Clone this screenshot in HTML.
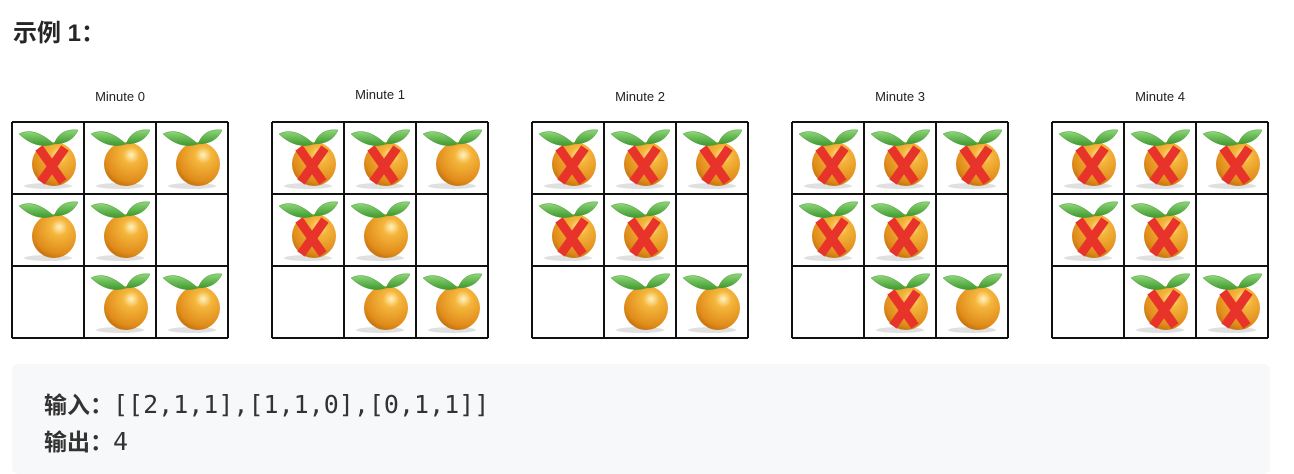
<!DOCTYPE html>
<html><head><meta charset="utf-8">
<style>
body{margin:0;width:1294px;height:456px;background:#fff;overflow:hidden;font-family:"Liberation Sans","Noto Sans CJK SC",sans-serif;position:relative}
h3{position:absolute;left:13px;top:13px;margin:0;font-size:24px;font-weight:bold;color:#262626}
#code{position:absolute;left:12px;top:364px;width:1258px;height:110px;background:#f7f8fa;border-radius:6px}
.ln{position:absolute;left:44px;font-size:25px;color:#333;font-family:"DejaVu Sans Mono","Noto Sans CJK SC",monospace}
.ln b{font-family:"Liberation Sans","Noto Sans CJK SC",sans-serif;font-size:23px}
</style></head><body>
<h3>示例 1：</h3>
<svg id="fig" width="1294" height="345" style="position:absolute;left:0;top:0">
<defs>
<radialGradient id="og" cx="0.62" cy="0.3" r="0.75">
<stop offset="0" stop-color="#fff2c0"/><stop offset="0.25" stop-color="#f5b63c"/><stop offset="0.8" stop-color="#e08c1a"/><stop offset="1" stop-color="#c06e10"/></radialGradient>
<linearGradient id="lg" x1="0" y1="0" x2="0" y2="1"><stop offset="0" stop-color="#8fd67a"/><stop offset="1" stop-color="#3e9a2e"/></linearGradient>
</defs>
</svg>
<div id="code"></div>
<div class="ln" style="top:386px"><b>输入：</b>[[2,1,1],[1,1,0],[0,1,1]]</div>
<div class="ln" style="top:423px"><b>输出：</b>4</div>
<script>
const minutes=["Minute 0","Minute 1","Minute 2","Minute 3","Minute 4"];
const states=[
[[2,1,1],[1,1,0],[0,1,1]],
[[2,2,1],[2,1,0],[0,1,1]],
[[2,2,2],[2,2,0],[0,1,1]],
[[2,2,2],[2,2,0],[0,2,1]],
[[2,2,2],[2,2,0],[0,2,2]]];
const NS="http://www.w3.org/2000/svg";
const svg=document.getElementById('fig');
function mk(t,a,p){const e=document.createElementNS(NS,t);for(const k in a)e.setAttribute(k,a[k]);(p||svg).appendChild(e);return e;}
const cell=72, gx0=12, gy=122, gstep=260;
minutes.forEach((m,i)=>{
  const gx=gx0+i*gstep;
  const g=mk('g',{});
  
  
  const t=mk('text',{x:gx+108,y:i==1?99:101,'text-anchor':'middle','font-size':'13','fill':'#222','font-family':'Liberation Sans, sans-serif'},g);
  t.textContent=m;
  
  
  states[i].forEach((row,r)=>row.forEach((v,c)=>{
    const x=gx+c*cell,y=gy+r*cell;
    if(v>0){
      const o=mk('g',{},g);
      
      
      mk('ellipse',{cx:x+36,cy:y+64,rx:24,ry:3,fill:'#ccc',opacity:0.6},o);
      mk('circle',{cx:x+42,cy:y+42,r:22,fill:'url(#og)'},o);
      mk('path',{d:`M${x+7} ${y+12} Q${x+22} ${y+4} ${x+42} ${y+22} Q${x+24} ${y+28} ${x+7} ${y+12}Z`,fill:'url(#lg)',stroke:'#4a9a3a','stroke-width':0.5},o);
      mk('path',{d:`M${x+42} ${y+22} Q${x+48} ${y+6} ${x+66} ${y+8} Q${x+60} ${y+22} ${x+42} ${y+22}Z`,fill:'url(#lg)',stroke:'#4a9a3a','stroke-width':0.5},o);
      if(v==2){
        mk('path',{d:`M${x+27} ${y+26} L${x+51} ${y+60} M${x+53} ${y+26} L${x+29} ${y+60}`,stroke:'#e8332a','stroke-width':9,fill:'none'},o);
      }
    }
  }));
  for(let k=0;k<=3;k++){
    mk('line',{x1:gx+k*cell,y1:gy,x2:gx+k*cell,y2:gy+3*cell,stroke:'#111','stroke-width':2},g);
    mk('line',{x1:gx,y1:gy+k*cell,x2:gx+3*cell,y2:gy+k*cell,stroke:'#111','stroke-width':2},g);
  }
});
</script>
</body></html>
